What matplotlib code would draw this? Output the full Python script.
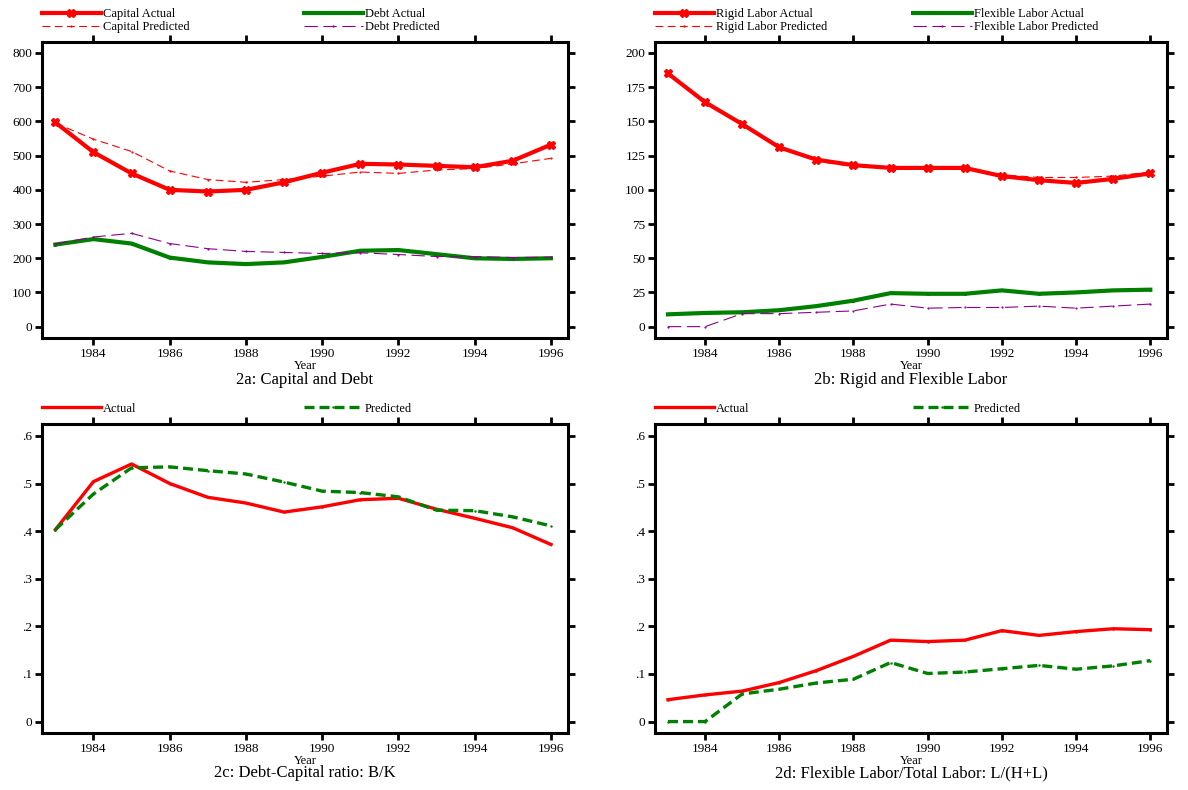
import matplotlib
matplotlib.use("Agg")
import matplotlib.pyplot as plt
from matplotlib.legend import Legend

plt.rcParams['font.family'] = ['Liberation Serif', 'DejaVu Serif']

years = list(range(1983, 1997))

capital_actual = [597, 510, 448, 400, 395, 400, 422, 450, 476, 474, 470, 466, 485, 532]
capital_pred = [595, 548, 512, 455, 430, 422, 430, 440, 452, 448, 458, 462, 476, 492]
debt_actual = [240, 256, 243, 202, 188, 183, 188, 204, 222, 224, 212, 200, 198, 200]
debt_pred = [242, 262, 273, 243, 228, 220, 217, 214, 216, 211, 205, 205, 202, 203]

rigid_actual = [185, 164, 148, 131, 122, 118, 116, 116, 116, 110, 107, 105, 108, 112]
rigid_pred = [185, 164, 148, 131, 121, 117, 116, 116, 116, 111, 109, 109, 110, 113]
flex_actual = [9, 10, 10.5, 12, 15, 19, 24.5, 24, 24, 26.5, 24, 25, 26.5, 27]
flex_pred = [0, 0, 9.5, 9.5, 10.5, 11.5, 16.5, 13.5, 14, 14, 15, 13.5, 15, 16.5]

bk_actual = [.403, .504, .541, .500, .471, .459, .440, .451, .466, .469, .446, .427, .407, .372]
bk_pred = [.403, .478, .533, .535, .527, .520, .503, .484, .481, .472, .444, .443, .430, .411]

lhl_actual = [.046, .056, .064, .082, .107, .137, .171, .168, .171, .191, .181, .189, .195, .193]
lhl_pred = [0, 0, .058, .068, .081, .089, .124, .101, .104, .111, .118, .110, .117, .128]

xticks = [1984, 1986, 1988, 1990, 1992, 1994, 1996]
yticks_a = [0, 100, 200, 300, 400, 500, 600, 700, 800]
yticks_b = [0, 25, 50, 75, 100, 125, 150, 175, 200]
yticks_r = [0, .1, .2, .3, .4, .5, .6]
yticklabels_r = ['0', '.1', '.2', '.3', '.4', '.5', '.6']

titles = ['2a: Capital and Debt', '2b: Rigid and Flexible Labor',
          '2c: Debt-Capital ratio: B/K', '2d: Flexible Labor/Total Labor: L/(H+L)']

RED = '#ff0000'
GREEN = '#008000'
PURPLE = '#8b008b'

fig = plt.figure(figsize=(11.88, 7.90), dpi=100)
W, H = 1188, 790

def mk_ax(l, r, t, b):
    return fig.add_axes([l / W, 1 - b / H, (r - l) / W, (b - t) / H])

axA = mk_ax(42, 568, 42, 338)
axB = mk_ax(655, 1167, 42, 338)
axC = mk_ax(42, 568, 424, 733)
axD = mk_ax(655, 1167, 424, 733)

def style(ax, yt, ytl=None):
    ax.set_xlim(1982.65, 1996.45)
    ax.set_xticks(xticks)
    ax.set_yticks(yt)
    if ytl is not None:
        ax.set_yticklabels(ytl)
    for s in ax.spines.values():
        s.set_linewidth(2.2)
    ax.tick_params(direction='out', length=5, width=2.0, labelsize=9.5,
                   top=True, right=True, labeltop=False, labelright=False, pad=2)
    ax.set_xlabel('Year', fontsize=9, labelpad=0)

fs_leg = 9

def legend_pair(ax, handles, labels, x):
    leg = Legend(ax, handles, labels, loc='lower left', bbox_to_anchor=(x, 1.03),
                 frameon=False, fontsize=fs_leg, handlelength=4.7, handletextpad=0.15,
                 borderpad=0, borderaxespad=0, labelspacing=0.05, numpoints=1)
    ax.add_artist(leg)

# 2a
a1, = axA.plot(years, capital_actual, color=RED, lw=3, marker='X', ms=6)
a2, = axA.plot(years, capital_pred, color=RED, lw=0.8, ls=(0, (7, 4)), marker='.', ms=1.2)
a3, = axA.plot(years, debt_actual, color=GREEN, lw=3, marker='.', ms=2.5)
a4, = axA.plot(years, debt_pred, color=PURPLE, lw=0.8, ls=(0, (12, 5)), marker='.', ms=1.2)
axA.set_ylim(-33, 832)
style(axA, yticks_a)
legend_pair(axA, [a1, a2], ['Capital Actual', 'Capital Predicted'], 0.0)
legend_pair(axA, [a3, a4], ['Debt Actual', 'Debt Predicted'], 0.498)

# 2b
b1, = axB.plot(years, rigid_actual, color=RED, lw=3, marker='X', ms=6)
b2, = axB.plot(years, rigid_pred, color=RED, lw=0.8, ls=(0, (7, 4)), marker='.', ms=1.2)
b3, = axB.plot(years, flex_actual, color=GREEN, lw=3, marker='.', ms=2.5)
b4, = axB.plot(years, flex_pred, color=PURPLE, lw=0.8, ls=(0, (12, 5)), marker='.', ms=1.2)
axB.set_ylim(-8.3, 208)
style(axB, yticks_b)
legend_pair(axB, [b1, b2], ['Rigid Labor Actual', 'Rigid Labor Predicted'], 0.0)
legend_pair(axB, [b3, b4], ['Flexible Labor Actual', 'Flexible Labor Predicted'], 0.504)

# 2c
c1, = axC.plot(years, bk_actual, color=RED, lw=2.4, marker='.', ms=1.5)
c2, = axC.plot(years, bk_pred, color=GREEN, lw=2.4, ls=(0, (3, 1.5)), marker='.', ms=1.5)
axC.set_ylim(-0.024, 0.625)
style(axC, yticks_r, yticklabels_r)
legend_pair(axC, [c1], ['Actual'], 0.0)
legend_pair(axC, [c2], ['Predicted'], 0.498)

# 2d
d1, = axD.plot(years, lhl_actual, color=RED, lw=2.4, marker='.', ms=1.5)
d2, = axD.plot(years, lhl_pred, color=GREEN, lw=2.4, ls=(0, (3, 1.5)), marker='.', ms=1.5)
axD.set_ylim(-0.024, 0.625)
style(axD, yticks_r, yticklabels_r)
legend_pair(axD, [d1], ['Actual'], 0.0)
legend_pair(axD, [d2], ['Predicted'], 0.504)

fig.text(305 / W, 1 - 380 / H, titles[0], ha='center', va='center', fontsize=12)
fig.text(911 / W, 1 - 380 / H, titles[1], ha='center', va='center', fontsize=12)
fig.text(305 / W, 1 - 773 / H, titles[2], ha='center', va='center', fontsize=12)
fig.text(911 / W, 1 - 773 / H, titles[3], ha='center', va='center', fontsize=12)

fig.savefig('out.png', dpi=100)
